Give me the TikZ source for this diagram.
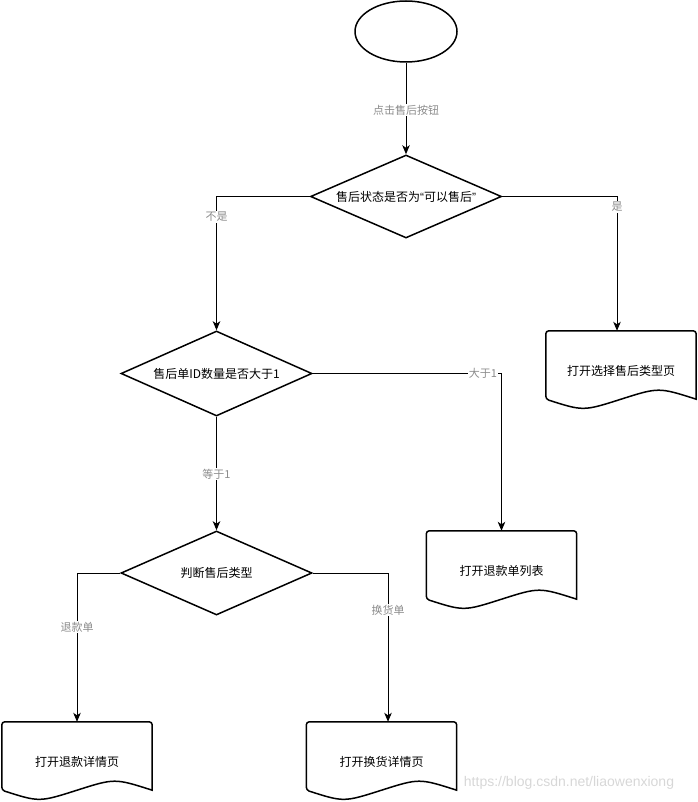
\documentclass[tikz,border=0pt]{standalone}
\usepackage{fontspec}
\newfontfamily\cjk{Noto Sans CJK SC}
\newfontfamily\latsans{Liberation Sans}
\usetikzlibrary{shapes.geometric,arrows.meta,calc}
\definecolor{lblgray}{RGB}{140,140,140}
\definecolor{wmgray}{RGB}{215,215,215}
\tikzset{
  shapeline/.style={draw=black, line width=1.5pt},
  term/.style={ellipse, shapeline, minimum width=102pt, minimum height=61pt, inner sep=0pt},
  decision/.style={diamond, aspect=2.3, shapeline, minimum width=191pt, minimum height=84pt, inner sep=0pt, font=\cjk\fontsize{12}{14}\selectfont},
  docbox/.style={rectangle, draw=none, minimum width=150pt, minimum height=80pt, inner sep=0pt, font=\cjk\fontsize{12}{14}\selectfont},
  conn/.style={draw=black, line width=1pt, -{Stealth[length=9pt,width=7.5pt,inset=2.5pt]}},
  elabel/.style={fill=white, inner sep=1pt, text=lblgray, font=\cjk\fontsize{11}{13}\selectfont},
  wmark/.style={text=wmgray, inner sep=0pt, font=\latsans\fontsize{14}{16}\selectfont}
}
\newcommand\docoutline[1]{%
  \draw[shapeline] ($(#1.south east)+(0,-12)$) [rounded corners=3pt] -- (#1.north east) -- (#1.north west) -- ($(#1.south west)+(0,-12)$) [sharp corners]
    .. controls ($(#1.south west)+(37.5,0)$) .. ($(#1.south)+(0,-12)$)
    .. controls ($(#1.south east)+(-37.5,-24)$) .. ($(#1.south east)+(0,-12)$) -- cycle;
}
\begin{document}
\begin{tikzpicture}[x=1pt,y=-1pt]
\path[use as bounding box] (0,0) rectangle (697,802);
% nodes
\node[term] (start) at (406,31.5) {};
\node[decision, minimum height=83pt] (d1) at (406,196.5) {售后状态是否为{\latsans“}可以售后{\latsans”}};
\node[decision, minimum height=85pt] (d2) at (216.5,373.5) {售后单ID数量是否大于1};
\node[decision] (d3) at (216.5,573) {判断售后类型};
\node[docbox] (doc1) at (621,371) {打开选择售后类型页};
\node[docbox] (doc2) at (501.5,571) {打开退款单列表};
\node[docbox] (doc3) at (77,762) {打开退款详情页};
\node[docbox] (doc4) at (381.5,762) {打开换货详情页};
\docoutline{doc1}
\docoutline{doc2}
\docoutline{doc3}
\docoutline{doc4}
\coordinate (in1) at ($(doc1.north)+(-4,0)$);
\coordinate (in4) at ($(doc4.north)+(6.5,0)$);
% connectors
\draw[conn] (start.south) -- (d1.north);
\draw[conn] (d1.west) -| (d2.north);
\draw[conn] (d1.east) -| (in1);
\draw[conn] (d2.east) -| (doc2.north);
\draw[conn] (d2.south) -- (d3.north);
\draw[conn] (d3.west) -| (doc3.north);
\draw[conn] (d3.east) -| (in4);
% edge labels
\node[elabel] (l1) at (406,110) {点击售后按钮};
\node[elabel] (l2) at (216.5,217) {不是};
\node[elabel] (l3) at (617,207) {是};
\node[elabel] (l4) at (483,373.5) {大于1};
\node[elabel] (l5) at (216.5,474) {等于1};
\node[elabel] (l6) at (77,627) {退款单};
\node[elabel] (l7) at (388,610) {换货单};
% watermark
\node[wmark] (wm) at (569,783) {https://blog.csdn.net/liaowenxiong};
\end{tikzpicture}
\end{document}
